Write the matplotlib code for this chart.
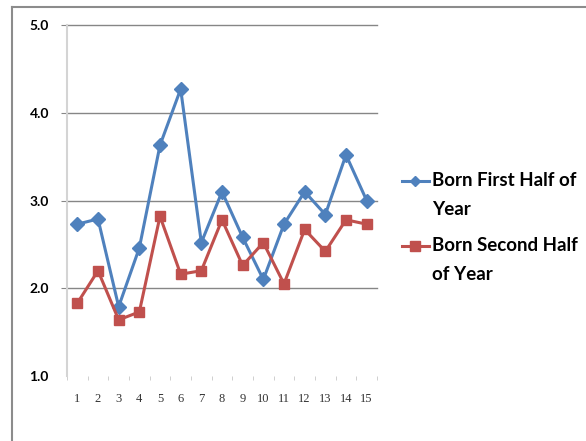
import matplotlib
matplotlib.use("Agg")
import matplotlib.pyplot as plt
from matplotlib.lines import Line2D
from matplotlib.ticker import FixedLocator

# category numbers and the two series
categories = list(range(1, 16))
first_half = [2.73, 2.79, 1.79, 2.46, 3.63, 4.27, 2.52, 3.10, 2.58, 2.10,
              2.73, 3.10, 2.84, 3.52, 3.00]
second_half = [1.83, 2.20, 1.64, 1.73, 2.82, 2.16, 2.20, 2.78, 2.26, 2.52,
               2.05, 2.67, 2.42, 2.78, 2.73]
y_ticks = [1.0, 2.0, 3.0, 4.0, 5.0]
series_labels = ["Born First Half of\nYear", "Born Second Half\nof Year"]

blue = '#4F81BD'
red = '#C0504D'

W, H = 586, 441
fig = plt.figure(figsize=(W / 100, H / 100), dpi=100)
ax = fig.add_axes([67 / W, 1 - 376 / H, 310 / W, 351 / H])

ax.plot(categories, first_half, color=blue, lw=2.2, marker='D', ms=7,
        zorder=3)
ax.plot(categories, second_half, color=red, lw=2.2, marker='s', ms=7.5,
        zorder=3)

ax.set_xlim(0.5, 15.5)
ax.set_ylim(1.0, 5.0)
ax.set_yticks(y_ticks)
ax.set_yticklabels([f"{v:.1f}" for v in y_ticks])
ax.set_xticks(categories)
ax.xaxis.set_minor_locator(FixedLocator([c - 0.5 for c in categories] + [15.5]))

ax.grid(axis='y', color='#868686', lw=1.0, clip_on=False)
ax.set_axisbelow(True)
for side in ('top', 'right', 'bottom'):
    ax.spines[side].set_visible(False)
ax.spines['left'].set_color('#d4d4d4')
ax.spines['left'].set_linewidth(1.5)

ax.tick_params(axis='y', length=4, color='#868686', pad=9)
ax.tick_params(axis='x', which='major', length=0, pad=12)
ax.tick_params(axis='x', which='minor', length=3, color='#c8c8c8')
# no gridline or tick along the bottom value
ax.yaxis.get_gridlines()[0].set_visible(False)
ax.yaxis.get_major_ticks()[0].tick1line.set_visible(False)
for lab in ax.get_yticklabels():
    lab.set_fontfamily('Lato')
    lab.set_fontweight('bold')
    lab.set_fontsize(10)
for lab in ax.get_xticklabels():
    lab.set_fontfamily('Liberation Serif')
    lab.set_fontsize(9)
    lab.set_color('#333333')

# legend drawn by hand so the key sits on the first text line
for i, (col, mk, ms) in enumerate([(blue, 'D', 5), (red, 's', 6.5)]):
    y = 1 - (181 + i * 65) / H
    fig.add_artist(Line2D([402 / W, 429 / W], [y, y], color=col, lw=2.2,
                          transform=fig.transFigure))
    fig.add_artist(Line2D([415.5 / W], [y], color=col, marker=mk, ms=ms,
                          transform=fig.transFigure))
    fig.text(432 / W, y + 9 / H, series_labels[i], family='Lato',
             fontweight='bold', fontsize=13.5, va='top', ha='left',
             linespacing=1.85)

# outer chart frame
fig.add_artist(Line2D([12 / W, 12 / W], [0, 1 - 7 / H], color='#8c8c8c',
                      lw=1.5, transform=fig.transFigure))
fig.add_artist(Line2D([12 / W, 1], [1 - 7 / H, 1 - 7 / H], color='#8c8c8c',
                      lw=1.5, transform=fig.transFigure))

fig.savefig("out.png", dpi=100)
